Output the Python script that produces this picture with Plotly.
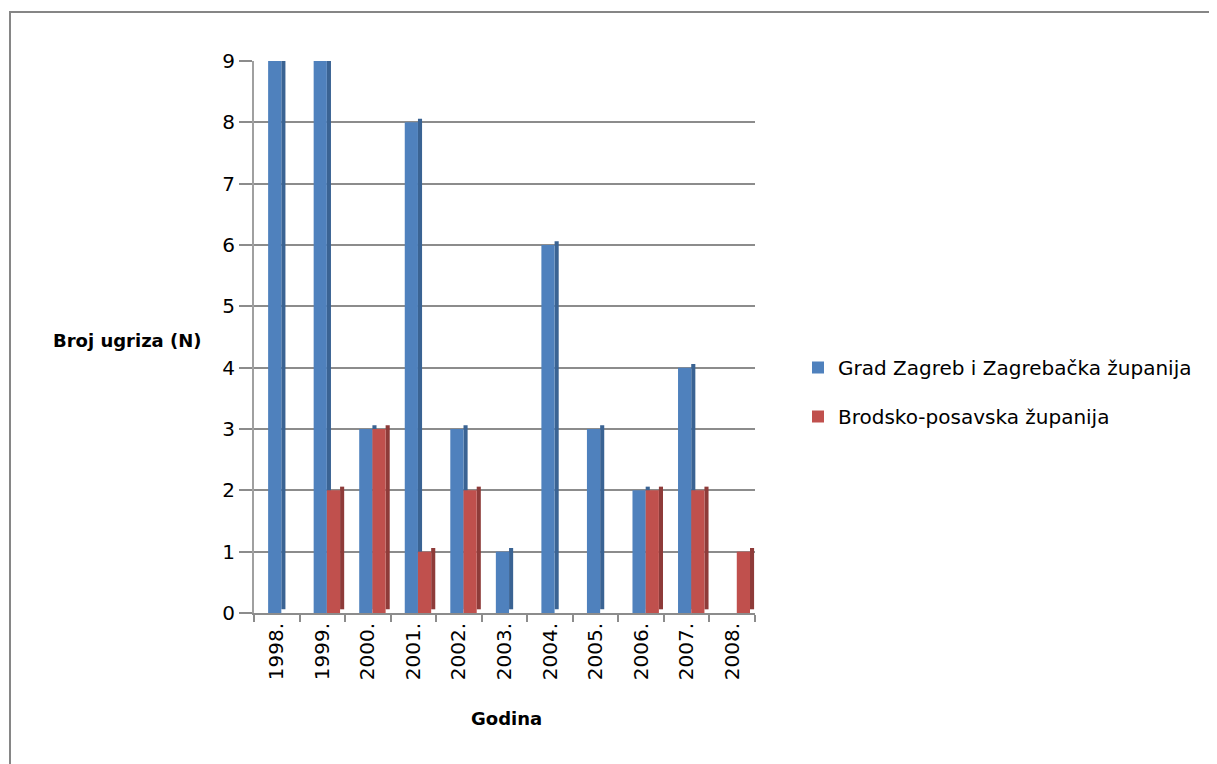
import plotly.graph_objects as go

years = ["1998.", "1999.", "2000.", "2001.", "2002.", "2003.", "2004.", "2005.", "2006.", "2007.", "2008."]
zagreb = [9, 9, 3, 8, 3, 1, 6, 3, 2, 4, 0]
brod = [0, 2, 3, 1, 2, 0, 0, 0, 2, 2, 1]
series_names = ["Grad Zagreb i Zagrebačka županija", "Brodsko-posavska županija"]

BLUE, BLUE_D = "#4F81BD", "#3A6393"
RED, RED_D = "#C0504D", "#8E3B39"
FONT = "DejaVu Sans"
W, H = 1217, 764
OFF = 8  # page body margin offset
SL, SR, ST, SB = 254, 755, 61, 613
L, T = SL - OFF, ST - OFF
R = W - (SR - OFF)
B = H - (SB - OFF)
pw, ph = W - L - R, H - T - B

def px2x(p):
    return (p - SL) / pw

def px2y(p):
    return (SB - p) / ph

fig = go.Figure()
fig.add_trace(go.Bar(x=years, y=zagreb, base=0.06, width=0.09, offset=0.10,
                     marker=dict(color=BLUE_D, line=dict(width=0)),
                     showlegend=False, hoverinfo="skip"))
fig.add_trace(go.Bar(x=years, y=zagreb, width=0.29, offset=-0.19, name=series_names[0],
                     marker=dict(color=BLUE, line=dict(width=0)), legendgroup="a"))
fig.add_trace(go.Bar(x=years, y=brod, base=0.06, width=0.09, offset=0.39,
                     marker=dict(color=RED_D, line=dict(width=0)),
                     showlegend=False, hoverinfo="skip"))
fig.add_trace(go.Bar(x=years, y=brod, width=0.29, offset=0.10, name=series_names[1],
                     marker=dict(color=RED, line=dict(width=0)), legendgroup="b"))

fig.update_layout(
    width=W, height=H,
    margin=dict(l=L, r=R, t=T, b=B, autoexpand=False),
    barmode="overlay",
    plot_bgcolor="white", paper_bgcolor="white",
    font=dict(family=FONT, size=20, color="#000000"),
    legend=dict(x=px2x(798), y=px2y(348), xanchor="left", yanchor="top",
                font=dict(family=FONT, size=20), tracegroupgap=20,
                itemwidth=30, bgcolor="rgba(0,0,0,0)"),
    xaxis=dict(type="category", tickson="boundaries", ticks="outside", ticklen=7,
               tickcolor="#8C8C8C", tickwidth=2, tickangle=-90,
               showline=True, linecolor="#8C8C8C", linewidth=2,
               showgrid=False, range=[-0.5, 10.5],
               tickfont=dict(family=FONT, size=20)),
    yaxis=dict(range=[0, 9], dtick=1, ticks="outside", ticklen=13,
               tickcolor="#8C8C8C", tickwidth=2,
               showline=True, linecolor="#A0A0A0", linewidth=2,
               showgrid=True, gridcolor="#8C8C8C", gridwidth=2,
               zeroline=False, tickfont=dict(family=FONT, size=20)),
    shapes=[dict(type="rect", xref="paper", yref="paper",
                 x0=px2x(10), x1=px2x(1240), y0=px2y(12), y1=px2y(790),
                 line=dict(color="#868686", width=2), layer="below")],
    annotations=[
        dict(text="<b>Godina</b>", x=px2x(506), y=px2y(718), xref="paper", yref="paper",
             xanchor="center", yanchor="middle",
             showarrow=False, font=dict(family=FONT, size=18)),
        dict(text="<b>Broj ugriza (N)</b>", x=px2x(127), y=px2y(340), xref="paper", yref="paper",
             xanchor="center", yanchor="middle",
             showarrow=False, font=dict(family=FONT, size=18)),
    ],
)

fig.write_html("out.html")
